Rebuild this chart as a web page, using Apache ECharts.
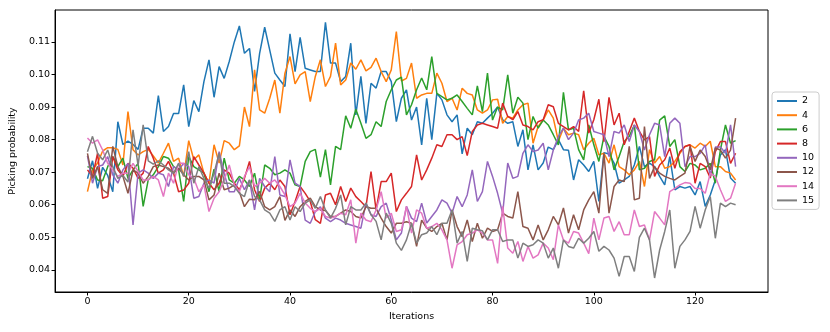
<!DOCTYPE html>
<html lang="en">
<head>
  <meta charset="UTF-8">
  <title>Picking probability</title>
  <style>
    html, body { margin: 0; padding: 0; background: #fff; }
  </style>
</head>
<body>
  <div id="main" style="width: 830px;height: 332px;"></div>
</body>
<script src="https://cdn.jsdelivr.net/npm/echarts@6/dist/echarts.min.js"></script>
<script>
  // series names and tick labels
  var names = ['2', '4', '6', '8', '10', '12', '14', '15'];
  var xTicks = [0, 20, 40, 60, 80, 100, 120];
  var yTicks = [0.04, 0.05, 0.06, 0.07, 0.08, 0.09, 0.10, 0.11];

  // picking probability per iteration (0..128)
  var s2 = [
    0.068, 0.0735, 0.065, 0.0715, 0.069, 0.064, 0.0855, 0.0785, 0.0795, 0.0785,
    0.077, 0.0835, 0.0835, 0.082, 0.0935, 0.0825, 0.084, 0.088, 0.088, 0.0968,
    0.084, 0.092, 0.0886, 0.0978, 0.1045, 0.093, 0.1024, 0.0988, 0.104, 0.110,
    0.1149, 0.1065, 0.108, 0.0948, 0.1065, 0.1145, 0.1075, 0.1004, 0.0983, 0.0963,
    0.1125, 0.1009, 0.1114, 0.1019, 0.1014, 0.1009, 0.1009, 0.116, 0.1035, 0.1035,
    0.0978, 0.0994, 0.1096, 0.0876, 0.0994, 0.085, 0.0973, 0.0958, 0.1009, 0.1009,
    0.0978, 0.0855, 0.0927, 0.0953, 0.086, 0.090, 0.0784, 0.0927, 0.080, 0.0942,
    0.0922, 0.0876, 0.0855, 0.0876, 0.0756, 0.0835, 0.0815, 0.0855, 0.085, 0.0866,
    0.0881, 0.090, 0.0861, 0.085, 0.0855, 0.0779, 0.083, 0.0707, 0.0784, 0.0707,
    0.0728, 0.0777, 0.0769, 0.080, 0.0769, 0.0767, 0.0676, 0.0738, 0.0722, 0.0702,
    0.0733, 0.061, 0.076, 0.0756, 0.0728, 0.0666, 0.0676, 0.0687, 0.0722, 0.0779,
    0.0717, 0.0728, 0.0717, 0.0687, 0.0661, 0.0748, 0.0646, 0.0656, 0.0651, 0.0656,
    0.063, 0.0671, 0.0595, 0.063, 0.0676, 0.0753, 0.0769, 0.0682, 0.0666
  ];
  var s4 = [
    0.064, 0.0707, 0.0728, 0.0765, 0.0775, 0.0775, 0.077, 0.0722, 0.0886, 0.0769,
    0.0753, 0.0763, 0.077, 0.075, 0.0728, 0.0758, 0.0789, 0.0733, 0.0743, 0.0687,
    0.0797, 0.0738, 0.0753, 0.0697, 0.0666, 0.0784, 0.0728, 0.0797, 0.0789, 0.0769,
    0.0781, 0.090, 0.084, 0.1014, 0.0891, 0.0881, 0.0927, 0.0983, 0.0881, 0.1004,
    0.1055, 0.0971, 0.0999, 0.1009, 0.0917, 0.0994, 0.1045, 0.0963, 0.0994, 0.1096,
    0.0968, 0.0983, 0.1035, 0.1016, 0.1045, 0.1011, 0.1022, 0.105, 0.1009, 0.0978,
    0.1014, 0.1132, 0.098, 0.0988, 0.1035, 0.0927, 0.0937, 0.0942, 0.0942, 0.1004,
    0.0973, 0.0917, 0.0927, 0.0891, 0.0958, 0.0942, 0.0937, 0.0891, 0.0881, 0.0891,
    0.0922, 0.0924, 0.085, 0.0871, 0.0866, 0.0891, 0.0907, 0.0912, 0.0789, 0.084,
    0.086, 0.0891, 0.0866, 0.0795, 0.0835, 0.0815, 0.082, 0.0815, 0.0769, 0.0789,
    0.0804, 0.0753, 0.0758, 0.0728, 0.0784, 0.0717, 0.0707, 0.0692, 0.0707, 0.0733,
    0.0656, 0.0769, 0.0728, 0.0748, 0.0712, 0.0717, 0.0733, 0.0758, 0.0779, 0.0784,
    0.0774, 0.0789, 0.0779, 0.0795, 0.0717, 0.0717, 0.0702, 0.0697, 0.0676
  ];
  var s6 = [
    0.0717, 0.0712, 0.0676, 0.0674, 0.0717, 0.0748, 0.0717, 0.0743, 0.0681, 0.0707,
    0.0727, 0.0595, 0.0676, 0.0692, 0.0717, 0.0748, 0.0743, 0.0717, 0.0707, 0.061,
    0.0748, 0.0717, 0.0707, 0.0697, 0.064, 0.0709, 0.064, 0.0743, 0.0676, 0.0666,
    0.0687, 0.0676, 0.0656, 0.0697, 0.0615, 0.0722, 0.0712, 0.0692, 0.0697, 0.0707,
    0.0697, 0.0661, 0.0656, 0.0733, 0.0763, 0.077, 0.0685, 0.0769, 0.0661, 0.0779,
    0.0769, 0.0873, 0.0835, 0.0893, 0.085, 0.0804, 0.0815, 0.0855, 0.084, 0.0917,
    0.0953, 0.0983, 0.0992, 0.0876, 0.0907, 0.0953, 0.0989, 0.0953, 0.1055, 0.0942,
    0.0932, 0.0922, 0.0927, 0.0937, 0.0917, 0.0896, 0.0876, 0.0965, 0.0886, 0.1004,
    0.086, 0.090, 0.0891, 0.0999, 0.0881, 0.093, 0.0912, 0.080, 0.0871, 0.0835,
    0.086, 0.0845, 0.0815, 0.0784, 0.0945, 0.083, 0.0835, 0.0769, 0.0738, 0.0845,
    0.0784, 0.0733, 0.081, 0.0779, 0.0707, 0.0748, 0.0794, 0.081, 0.0845, 0.0707,
    0.0712, 0.0733, 0.0738, 0.086, 0.0873, 0.0779, 0.080, 0.0717, 0.0702, 0.0727,
    0.0722, 0.0707, 0.0712, 0.0727, 0.0666, 0.0768, 0.0845, 0.0789, 0.0797
  ];
  var s8 = [
    0.0707, 0.0687, 0.0758, 0.062, 0.0625, 0.0748, 0.0707, 0.0687, 0.0727, 0.0712,
    0.0681, 0.0697, 0.0779, 0.0743, 0.0697, 0.0707, 0.0733, 0.0697, 0.064, 0.0645,
    0.0666, 0.0748, 0.0722, 0.0697, 0.0666, 0.0646, 0.0666, 0.0707, 0.0697, 0.0666,
    0.0646, 0.0681, 0.0733, 0.0646, 0.061, 0.0651, 0.0666, 0.0646, 0.0676, 0.0656,
    0.0569, 0.061, 0.0656, 0.0635, 0.061, 0.0554, 0.0543, 0.063, 0.0635, 0.060,
    0.0656, 0.061, 0.0651, 0.0625, 0.061, 0.0594, 0.0702, 0.0584, 0.0671, 0.0671,
    0.0697, 0.0579, 0.0615, 0.0635, 0.0656, 0.0753, 0.0676, 0.0707, 0.0743, 0.0784,
    0.0779, 0.0815, 0.0815, 0.080, 0.0809, 0.0751, 0.0825, 0.0845, 0.085, 0.0845,
    0.084, 0.0835, 0.0912, 0.0871, 0.0861, 0.0886, 0.0845, 0.084, 0.083, 0.0855,
    0.0861, 0.0907, 0.0901, 0.085, 0.084, 0.083, 0.084, 0.0825, 0.095, 0.082,
    0.0861, 0.0924, 0.0794, 0.093, 0.0845, 0.0881, 0.0784, 0.0825, 0.0866, 0.0825,
    0.0799, 0.0809, 0.0687, 0.0722, 0.0738, 0.0774, 0.0712, 0.0763, 0.0779, 0.0784,
    0.0666, 0.0727, 0.0717, 0.0682, 0.0763, 0.0794, 0.0794, 0.0727, 0.0758
  ];
  var s10 = [
    0.075, 0.0666, 0.0717, 0.0722, 0.0748, 0.0692, 0.0666, 0.0707, 0.0727, 0.0538,
    0.0697, 0.0707, 0.0697, 0.0681, 0.0697, 0.0692, 0.0656, 0.0717, 0.0707, 0.0727,
    0.0717, 0.062, 0.0625, 0.0666, 0.0676, 0.0666, 0.0763, 0.0697, 0.064, 0.064,
    0.0681, 0.0646, 0.0676, 0.0584, 0.0681, 0.0656, 0.064, 0.0748, 0.063, 0.0625,
    0.0738, 0.0666, 0.0656, 0.0553, 0.0543, 0.0579, 0.0594, 0.0559, 0.0548, 0.0559,
    0.0553, 0.0543, 0.0538, 0.0533, 0.0528, 0.0605, 0.0569, 0.0564, 0.0594, 0.0605,
    0.0553, 0.0492, 0.0513, 0.0595, 0.0559, 0.0548, 0.0605, 0.0544, 0.0564, 0.0584,
    0.0615, 0.0605, 0.0574, 0.0625, 0.0594, 0.063, 0.0707, 0.061, 0.064, 0.0733,
    0.0687, 0.0635, 0.0574, 0.0728, 0.0681, 0.0687, 0.0758, 0.0784, 0.0763, 0.0768,
    0.0789, 0.0707, 0.0768, 0.0809, 0.0835, 0.080, 0.082, 0.086, 0.0866, 0.0881,
    0.0825, 0.082, 0.0815, 0.0748, 0.0825, 0.082, 0.0845, 0.0794, 0.0845, 0.0825,
    0.0768, 0.0815, 0.085, 0.0845, 0.0748, 0.085, 0.0866, 0.085, 0.0717, 0.0748,
    0.0748, 0.0758, 0.0784, 0.0687, 0.0777, 0.0777, 0.0758, 0.0845, 0.0717
  ];
  var s12 = [
    0.0758, 0.0681, 0.0717, 0.0646, 0.0635, 0.0779, 0.0717, 0.0687, 0.0635, 0.0707,
    0.0697, 0.0666, 0.0687, 0.0717, 0.0722, 0.0717, 0.0712, 0.0697, 0.0712, 0.0692,
    0.0676, 0.0687, 0.0687, 0.0676, 0.0615, 0.063, 0.0697, 0.0646, 0.0651, 0.0661,
    0.064, 0.0594, 0.0617, 0.0615, 0.0641, 0.0594, 0.0584, 0.0594, 0.0625, 0.0552,
    0.0584, 0.0564, 0.0594, 0.061, 0.062, 0.0594, 0.0584, 0.0582, 0.0564, 0.0564,
    0.0574, 0.0584, 0.0579, 0.0564, 0.0559, 0.0594, 0.0589, 0.0589, 0.0559, 0.0533,
    0.0513, 0.0543, 0.0543, 0.0548, 0.0543, 0.0472, 0.0553, 0.0528, 0.0518, 0.0533,
    0.0543, 0.0492, 0.0584, 0.0533, 0.0502, 0.0553, 0.0487, 0.0543, 0.0497, 0.0528,
    0.0518, 0.0523, 0.0574, 0.0564, 0.0559, 0.064, 0.0533, 0.0528, 0.0492, 0.0538,
    0.0492, 0.0523, 0.0564, 0.0538, 0.059, 0.0513, 0.0569, 0.0523, 0.0584, 0.0615,
    0.064, 0.0574, 0.0758, 0.0574, 0.0656, 0.0676, 0.0671, 0.0779, 0.0615, 0.062,
    0.084, 0.0681, 0.0717, 0.0697, 0.0687, 0.0681, 0.0676, 0.0687, 0.0697, 0.0779,
    0.0733, 0.0768, 0.0748, 0.0707, 0.0774, 0.0768, 0.0743, 0.0768, 0.0866
  ];
  var s14 = [
    0.0805, 0.0789, 0.0799, 0.0768, 0.0727, 0.0707, 0.0687, 0.0697, 0.0697, 0.0727,
    0.0702, 0.0676, 0.0676, 0.0687, 0.0676, 0.0625, 0.0697, 0.0666, 0.0727, 0.0727,
    0.0692, 0.0681, 0.064, 0.0661, 0.0579, 0.062, 0.064, 0.0676, 0.0722, 0.0661,
    0.064, 0.0687, 0.0717, 0.0656, 0.0666, 0.0681, 0.0666, 0.0676, 0.0656, 0.063,
    0.0594, 0.0605, 0.0635, 0.0605, 0.0589, 0.0579, 0.0589, 0.0564, 0.0559, 0.0564,
    0.0574, 0.0569, 0.0615, 0.0482, 0.0574, 0.0553, 0.0548, 0.0584, 0.064, 0.0559,
    0.0574, 0.0518, 0.0523, 0.0595, 0.0513, 0.0584, 0.0574, 0.0528, 0.0533, 0.0543,
    0.0523, 0.0492, 0.0405, 0.0477, 0.0487, 0.0508, 0.0513, 0.0523, 0.0513, 0.0492,
    0.0492, 0.042, 0.0595, 0.0467, 0.0451, 0.0487, 0.0426, 0.0472, 0.0436, 0.0446,
    0.0482, 0.0467, 0.0431, 0.0538, 0.0492, 0.0482, 0.0518, 0.0513, 0.0482, 0.045,
    0.0559, 0.0492, 0.0559, 0.0564, 0.0518, 0.0548, 0.0508, 0.0508, 0.0584, 0.0533,
    0.0538, 0.0492, 0.0579, 0.0559, 0.0538, 0.064, 0.065, 0.0661, 0.0668, 0.0666,
    0.065, 0.065, 0.0635, 0.0697, 0.0687, 0.0646, 0.061, 0.062, 0.0666
  ];
  var s15 = [
    0.0763, 0.081, 0.0758, 0.0738, 0.0768, 0.0717, 0.0681, 0.069, 0.067, 0.083,
    0.072, 0.0845, 0.0735, 0.0725, 0.0735, 0.0722, 0.0707, 0.0697, 0.0727, 0.0687,
    0.0763, 0.0666, 0.0717, 0.0681, 0.0651, 0.0697, 0.0758, 0.0666, 0.0666, 0.0656,
    0.0635, 0.0625, 0.0676, 0.0625, 0.0615, 0.0584, 0.0574, 0.0549, 0.0584, 0.0594,
    0.0553, 0.0594, 0.0579, 0.0605, 0.0615, 0.0589, 0.0625, 0.0584, 0.0559, 0.0589,
    0.063, 0.0538, 0.0594, 0.0584, 0.0584, 0.0605, 0.0569, 0.0549, 0.0492, 0.0574,
    0.0543, 0.0482, 0.046, 0.0492, 0.0543, 0.0482, 0.0508, 0.0513, 0.0533, 0.0508,
    0.0543, 0.0543, 0.0584, 0.0482, 0.0518, 0.0426, 0.0528, 0.0523, 0.052, 0.0492,
    0.0523, 0.0523, 0.0487, 0.0492, 0.0492, 0.0436, 0.0482, 0.0472, 0.0477, 0.0492,
    0.0482, 0.0436, 0.0467, 0.0405, 0.0492, 0.0472, 0.0467, 0.0497, 0.0482, 0.0497,
    0.0518, 0.0457, 0.0472, 0.0461, 0.0436, 0.038, 0.0441, 0.0441, 0.0395, 0.050,
    0.0528, 0.0492, 0.0375, 0.0461, 0.0518, 0.0584, 0.0405, 0.0472, 0.0492, 0.0518,
    0.0595, 0.0528, 0.0584, 0.0625, 0.0497, 0.0605, 0.0594, 0.0605, 0.060
  ];

  var allSeries = [s2, s4, s6, s8, s10, s12, s14, s15];
  var colors = ['#1f77b4', '#ff7f0e', '#2ca02c', '#d62728', '#9467bd', '#8c564b', '#e377c2', '#7f7f7f'];

  var chartDom = document.getElementById('main');
  var myChart = echarts.init(chartDom);
  var font = 'DejaVu Sans';

  var series = [];
  for (var k = 0; k < names.length; k++) {
    series.push({
      name: names[k],
      type: 'line',
      symbol: 'none',
      lineStyle: { width: 1.5, color: colors[k] },
      itemStyle: { color: colors[k] },
      data: allSeries[k].map(function (v, i) { return [i, v]; })
    });
  }

  var option = {
    animation: false,
    color: colors,
    textStyle: { fontFamily: font },
    grid: {
      left: 52, right: 62, top: 10, bottom: 40,
      show: true, borderColor: '#000', borderWidth: 1, backgroundColor: 'transparent'
    },
    legend: {
      orient: 'vertical',
      left: 772, top: 92,
      data: names,
      icon: 'rect',
      itemWidth: 20, itemHeight: 2,
      itemGap: 4.2,
      padding: [4, 5, 4, 5],
      borderColor: '#ccc', borderWidth: 1, borderRadius: 3,
      textStyle: { fontFamily: font, fontSize: 9.5, color: '#000', lineHeight: 10 }
    },
    xAxis: {
      type: 'value',
      min: -6.4, max: 134.4,
      name: 'Iterations',
      nameLocation: 'middle',
      nameGap: 20,
      nameTextStyle: { fontFamily: font, fontSize: 9.5, color: '#000' },
      axisLine: { onZero: false, lineStyle: { color: '#000', width: 1 } },
      axisTick: { show: true, length: 3.5, lineStyle: { color: '#000' }, customValues: xTicks },
      axisLabel: { fontFamily: font, fontSize: 9.5, color: '#000', margin: 5, customValues: xTicks },
      splitLine: { show: false }
    },
    yAxis: {
      type: 'value',
      min: 0.0332, max: 0.1198,
      name: 'Picking probability',
      nameLocation: 'middle',
      nameGap: 27,
      nameTextStyle: { fontFamily: font, fontSize: 9.5, color: '#000' },
      axisLine: { show: true, onZero: false, lineStyle: { color: '#000', width: 1 } },
      axisTick: { show: true, length: 3.5, lineStyle: { color: '#000' }, customValues: yTicks },
      axisLabel: {
        fontFamily: font, fontSize: 9.5, color: '#000', margin: 5, customValues: yTicks,
        formatter: function (v) { return v.toFixed(2); }
      },
      splitLine: { show: false }
    },
    series: series
  };

  option && myChart.setOption(option);
</script>
</html>
